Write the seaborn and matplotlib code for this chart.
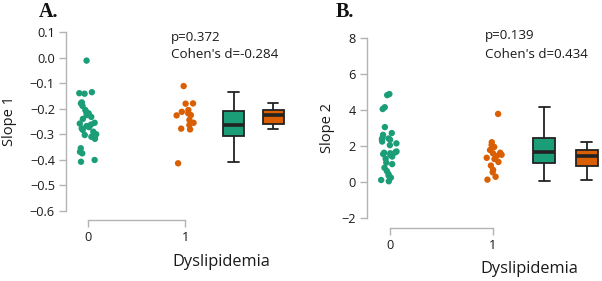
import numpy as np
import pandas as pd
import seaborn as sns
import matplotlib.pyplot as plt

# ---- data ----
groups = ["0", "1"]
slope1_no = [-0.011, -0.135, -0.139, -0.141, -0.175, -0.179, -0.189, -0.205, -0.212,
             -0.218, -0.225, -0.232, -0.240, -0.255, -0.258, -0.262, -0.268, -0.272,
             -0.277, -0.283, -0.290, -0.300, -0.303, -0.310, -0.312, -0.318, -0.355,
             -0.369, -0.375, -0.401, -0.408]
slope1_yes = [-0.111, -0.179, -0.180, -0.205, -0.212, -0.218, -0.225, -0.226, -0.244,
              -0.255, -0.264, -0.278, -0.281, -0.414]
slope2_no = [0.05, 0.12, 0.25, 0.35, 0.45, 0.62, 0.80, 1.00, 1.08, 1.30, 1.42, 1.50,
             1.56, 1.60, 1.63, 1.65, 1.70, 2.05, 2.15, 2.25, 2.35, 2.38, 2.42, 2.45,
             2.62, 2.72, 3.05, 4.05, 4.15, 4.82, 4.88]
slope2_yes = [0.14, 0.30, 0.55, 0.68, 0.92, 1.12, 1.28, 1.35, 1.45, 1.52, 1.60, 1.63,
              1.78, 1.95, 2.06, 2.21, 3.78]
stats1 = ["p=0.372", "Cohen's d=-0.284"]
stats2 = ["p=0.139", "Cohen's d=0.434"]
slope1_ticks = [-0.6, -0.5, -0.4, -0.3, -0.2, -0.1, 0.0, 0.1]
slope2_ticks = [-2, 0, 2, 4, 6, 8]
panel_letters = ["A.", "B."]
y_labels = ["Slope 1", "Slope 2"]
x_label = "Dyslipidemia"

palette = {"0": "#1b9e77", "1": "#d95f02"}

sns.set_theme(style="ticks")
plt.rcParams['font.family'] = ['Open Sans', 'DejaVu Sans']
plt.rcParams['axes.unicode_minus'] = True

W, H = 602, 281
fig = plt.figure(figsize=(W / 100, H / 100), dpi=100)


def add_axes(l, t, r, b):
    return fig.add_axes([l / W, 1 - b / H, (r - l) / W, (b - t) / H])


def panel(ax, no, yes, ticks, fmt, xlim, offset_px, ylab, xlab_pos, ylab_x, seed):
    df = pd.DataFrame({
        "group": [groups[0]] * len(no) + [groups[1]] * len(yes),
        "value": no + yes,
    })
    df["gx"] = df["group"].astype(float)
    df["bx"] = df["group"].map({groups[0]: 1.5, groups[1]: 1.91})
    np.random.seed(seed)
    sns.stripplot(data=df, x="gx", y="value", hue="group", palette=palette,
                  native_scale=True, jitter=0.09, size=4.6, linewidth=0,
                  legend=False, ax=ax, zorder=3)
    sns.boxplot(data=df, x="bx", y="value", hue="group", palette=palette,
                native_scale=True, dodge=False, width=0.52, showfliers=False,
                saturation=1, linecolor="#222222", linewidth=1.3,
                medianprops=dict(linewidth=2.6, color="#222222"),
                legend=False, ax=ax)
    ax.set_xlim(*xlim)
    ax.set_ylim(ticks[0], ticks[-1])
    ax.set_yticks(ticks)
    ax.set_yticklabels([fmt.format(t).replace("-", "\u2212") for t in ticks])
    ax.set_xticks([0, 1])
    ax.set_xticklabels(groups)
    sns.despine(ax=ax)
    for s in ["left", "bottom"]:
        ax.spines[s].set_color("#b3b3b3")
        ax.spines[s].set_linewidth(1.0)
    ax.spines["bottom"].set_bounds(0, 1)
    ax.spines["bottom"].set_position(("outward", offset_px * 0.72))
    ax.spines["left"].set_bounds(ticks[0], ticks[-1])
    ax.tick_params(axis="both", color="#b3b3b3", length=5, width=1.0,
                   labelsize=9.2, labelcolor="#1a1a1a", pad=3)
    ax.set_xlabel(x_label, fontsize=11.8, color="#1a1a1a")
    ax.set_ylabel(ylab, fontsize=10.5, color="#1a1a1a")
    ax.xaxis.set_label_coords(*xlab_pos)
    ax.yaxis.set_label_coords(ylab_x, 0.5)
    ax.set_facecolor("white")


ax1 = add_axes(66, 32.3, 296, 210.7)
panel(ax1, slope1_no, slope1_yes, slope1_ticks, "{:.1f}", (-0.227, 2.144), 9.3,
      y_labels[0], (0.674, -0.245), -0.215, 1)
ax2 = add_axes(367, 37.7, 600, 218.3)
panel(ax2, slope2_no, slope2_yes, slope2_ticks, "{:d}", (-0.223, 2.039), 9.7,
      y_labels[1], (0.695, -0.239), -0.139, 2)


def ftext(x, y, s, **kw):
    fig.text(x / W, 1 - y / H, s, va="center", ha="left", **kw)


ftext(171, 37, stats1[0], fontsize=9.6, color="#1a1a1a")
ftext(171, 55, stats1[1], fontsize=9.6, color="#1a1a1a")
ftext(485, 36, stats2[0], fontsize=9.6, color="#1a1a1a")
ftext(485, 55, stats2[1], fontsize=9.6, color="#1a1a1a")
ftext(39, 12, panel_letters[0], fontsize=14.5, fontweight="bold",
      family="Liberation Serif", color="#111111")
ftext(336, 12, panel_letters[1], fontsize=14.5, fontweight="bold",
      family="Liberation Serif", color="#111111")

fig.savefig("out.png", dpi=100, facecolor="white")
